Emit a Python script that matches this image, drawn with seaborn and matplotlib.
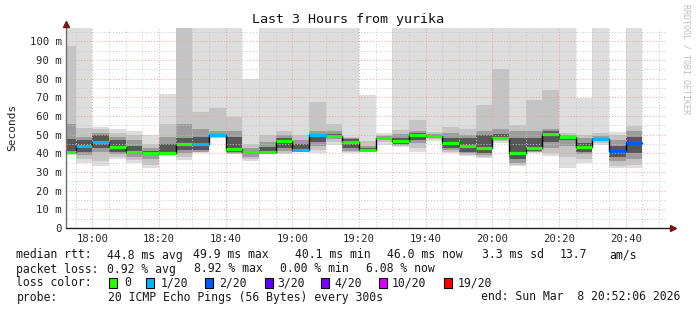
import numpy as np
import matplotlib
matplotlib.use("Agg")
import matplotlib.pyplot as plt
import seaborn as sns
from matplotlib.patches import Rectangle

sns.set_style("white")
plt.rcParams['font.family'] = ['DejaVu Sans Mono', 'DejaVu Sans']

# ---------------- data (5-minute bins, first bin starts 17:50) ----------------
first_bin = "17:50"
bin_minutes = 5
# smoke bands (ms): outer -> inner
hi0 = [107, 107, 54, 53.2, 52.2, 50, 71.7, 110, 110, 110, 110, 80, 110, 110, 110, 110, 110, 110,
       71.5, 51, 110, 110, 110, 110, 110, 110, 110, 110, 110, 110, 110, 69.7, 110, 51.6, 110]
hi1 = [97.5, 53.5, 53, 51, 50, 45, 56, 110, 62, 64.5, 59.7, 45, 50, 52, 50, 67.4, 55.5, 49,
       46.5, 50, 52.7, 57.7, 51.5, 54, 53, 66, 85.3, 55.4, 68.8, 73.7, 51, 50, 51, 50, 54.5]
hi2 = [56, 49, 51, 49, 47, 43, 49, 56, 53, 52, 52, 43, 46, 50, 47, 52, 52, 48,
       44, 49.5, 50.5, 52, 50.5, 51, 50, 52, 53, 52, 52, 53, 50, 48, 49.5, 47, 52]
hi3 = [47.5, 47, 50, 47, 44, 41.5, 45, 48.5, 49, 50.5, 49, 41.5, 43.5, 48.5, 45, 50.5, 50.5, 47.5,
       43, 49, 48, 51, 50, 48.5, 48, 50, 50.5, 48, 48, 52, 49.5, 45.5, 48.5, 44, 49]
median = [40.7, 44.1, 46.3, 43.2, 40.6, 40.1, 40.2, 44.9, 45.1, 49.6, 42.2, 40.6, 41, 46.8, 41.6, 49.6, 49.3, 46.2,
          42, 48.2, 46.4, 49.6, 49.1, 45.7, 44, 42.8, 48.3, 40.2, 42.7, 50.2, 48.8, 43.6, 47.7, 41.5, 45.8]
lo3 = [40.3, 41, 43, 40.5, 39.5, 39, 39.8, 42, 42, 49, 40.5, 39.5, 40.3, 43, 41, 46, 48.5, 43,
       41.5, 47.5, 45, 47, 48.5, 43, 41, 40, 47.5, 37, 41.5, 46, 47, 41, 47, 38, 40]
lo2 = [40, 39, 41, 39.5, 38, 37, 39.5, 40, 41, 48.8, 40, 38, 40, 41.5, 40.8, 44, 47.5, 41.5,
       41.2, 47, 44.5, 45.5, 48, 42, 40, 39, 47, 35, 41, 43, 44, 39.5, 46.5, 36, 37]
lo1 = [39.6, 37, 36, 38, 36.5, 34, 39.2, 38, 40.5, 48.5, 39.8, 37, 39.8, 40, 40.6, 42, 46, 40.5,
       41, 46, 44, 43, 47.5, 41, 39, 38, 46.5, 34, 40.5, 40, 38, 37, 45.5, 33.5, 34]
lo0 = [39.2, 35, 33, 37, 35, 32, 39, 36.4, 40, 48.2, 39.6, 35.7, 39.6, 39.4, 40.5, 40.2, 44.6, 40,
       40.7, 44.7, 43.2, 41, 46.5, 40.3, 38.4, 37.5, 45.5, 33.2, 40.2, 38.4, 32, 35, 44.6, 32, 32]
lost_pings = [0, 1, 1, 0, 0, 0, 0, 0, 1, 1, 0, 0, 0, 0, 1, 1, 0, 0,
              0, 0, 0, 0, 0, 0, 0, 0, 0, 0, 0, 0, 0, 0, 1, 2, 2]

loss_labels = ["0", "1/20", "2/20", "3/20", "4/20", "10/20", "19/20"]
loss_levels = [0, 1, 2, 3, 4, 10, 19]
loss_colors = ["#26ff00", "#00b8ff", "#0059ff", "#5e00ff", "#7e00ff", "#dd00ff", "#ff0000"]
smoke_colors = ["#dddddd", "#c4c4c4", "#9c9c9c", "#575757"]

title = "Last 3 Hours from yurika"
x_tick_labels = ["18:00", "18:20", "18:40", "19:00", "19:20", "19:40", "20:00", "20:20", "20:40"]
y_ticks = [0, 10, 20, 30, 40, 50, 60, 70, 80, 90, 100]

legend_rows = [
    [("median rtt:", 16.5), ("44.8 ms avg", 107), ("49.9 ms max", 193), ("40.1 ms min", 295),
     ("46.0 ms now", 387), ("3.3 ms sd", 482), ("13.7", 560), ("am/s", 609)],
    [("packet loss:", 16.5), ("0.92 % avg", 107), ("8.92 % max", 194), ("0.00 % min", 280),
     ("6.08 % now", 366)],
    [("loss color:", 16.5)],
    [("probe:", 16.5), ("20 ICMP Echo Pings (56 Bytes) every 300s", 108),
     ("end: Sun Mar  8 20:52:06 2026", 481)],
]
legend_box_x = [109, 146, 205, 265, 321, 379, 444]
legend_label_x = [124, 161, 219, 277, 334, 392, 458]
# ------------------------------------------------------------------------------

W, H = 697, 310
fig = plt.figure(figsize=(W / 100, H / 100), dpi=100)
fig.patch.set_facecolor("white")
ax = fig.add_axes([66 / W, 1 - 228 / H, 600 / W, 200 / H])
ax.set_facecolor("white")

h0, m0 = map(int, first_bin.split(":"))
x = h0 * 60 + m0 + bin_minutes * np.arange(len(median))
t_end = 20 * 60 + 52.1
ax.set_xlim(t_end - 180, t_end)
ax.set_ylim(0, 107.2)

bands = [(lo0, hi0), (lo1, hi1), (lo2, hi2), (lo3, hi3)]
for (lo, hi), c in zip(bands, smoke_colors):
    lo = np.array(lo, float)
    hi = np.array(hi, float)
    ax.bar(x, hi - lo, bottom=lo, width=bin_minutes, align="edge", color=c,
           edgecolor="none", linewidth=0, zorder=1)

# median: black step line, then coloured segments by packet loss
xs = np.append(x, x[-1] + bin_minutes)
ys = np.append(median, median[-1])
sns.lineplot(x=xs, y=ys, drawstyle="steps-post", color="black", lw=1.0, ax=ax,
             estimator=None, sort=False, zorder=4)
cmap = dict(zip(loss_levels, loss_colors))
ax.hlines(median, x, x + bin_minutes, colors=[cmap[l] for l in lost_pings], lw=2.3, zorder=5)

# grid
ax.set_yticks(y_ticks)
ax.set_yticks(np.arange(5, 107, 10), minor=True)
major_x = [18 * 60 + 20 * i for i in range(len(x_tick_labels))]
ax.set_xticks(major_x)
ax.set_xticks(np.arange(1075, 1252, 5), minor=True)
ax.grid(which="major", color="#f0a0a0", linestyle=(0, (1, 2)), lw=0.7)
ax.grid(which="minor", color="#c8c8c8", linestyle=(0, (1, 2)), lw=0.7)
ax.set_axisbelow(False)

ax.set_yticklabels(["0" if v == 0 else f"{v} m" for v in y_ticks])
ax.set_xticklabels(x_tick_labels)
ax.tick_params(which="both", length=0, labelsize=7.7, colors="#2a2a2a")
ax.tick_params(axis="y", pad=3)
ax.tick_params(axis="x", pad=4)
for s in ax.spines.values():
    s.set_visible(False)

# axes with arrows
ax.plot([0, 0], [0, 1.02], transform=ax.transAxes, clip_on=False, color="#6e6e6e", lw=1, zorder=6)
ax.plot([0, 1.008], [0, 0], transform=ax.transAxes, clip_on=False, color="#202020", lw=1, zorder=6)
ax.plot([0], [1.018], marker="^", ms=5, color="#7a1414", transform=ax.transAxes, clip_on=False, zorder=7)
ax.plot([1.011], [0], marker=">", ms=5, color="#7a1414", transform=ax.transAxes, clip_on=False, zorder=7)

def fx(px):
    return px / W

def fy(py):
    return 1 - py / H

fig.text(fx(348.5), fy(19), title, ha="center", va="center", fontsize=9.6, color="#111111")
fig.text(fx(12), fy(127), "Seconds", rotation=90, ha="center", va="center", fontsize=8, color="#222222")
fig.text(fx(686), fy(4), "RRDTOOL / TOBI OETIKER", rotation=270, ha="center", va="top",
         fontsize=6, color="#bdbdbd")

row_y = [255, 269, 283, 297]
for row, yy in zip(legend_rows, row_y):
    for txt, xx in row:
        fig.text(fx(xx), fy(yy), txt, ha="left", va="center", fontsize=8.3, color="#1a1a1a")
for bx, lx, lab, col in zip(legend_box_x, legend_label_x, loss_labels, loss_colors):
    fig.patches.append(Rectangle((fx(bx), fy(288)), 8 / W, 10 / H, transform=fig.transFigure,
                                 facecolor=col, edgecolor="black", lw=0.8))
    fig.text(fx(lx), fy(283), lab, ha="left", va="center", fontsize=8.3, color="#1a1a1a")

fig.savefig("out.png", dpi=100, facecolor="white")
